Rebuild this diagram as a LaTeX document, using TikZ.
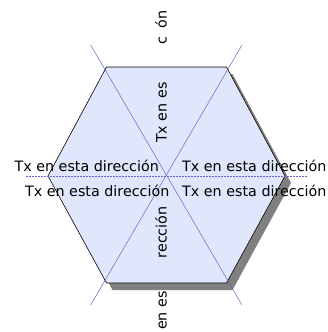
\documentclass[tikz,border=0pt]{standalone}
\usepackage{fontspec}
\setmainfont{DejaVu Sans}
\definecolor{hexfill}{RGB}{224,231,252}
\definecolor{axisblue}{RGB}{100,100,200}
\definecolor{shadowgray}{RGB}{128,128,128}
\begin{document}
\begin{tikzpicture}[x=1pt,y=-1pt,
  lbl/.style={font=\fontsize{14.3}{16}\selectfont, inner sep=0pt},
  vlbl/.style={lbl, rotate=90, anchor=base west},
  axis/.style={draw=axisblue, line width=0.5pt}]
\useasboundingbox (0,0) rectangle (328,332);
% hexagon vertices
\coordinate (A) at (106.5,67);
\coordinate (B) at (226.5,67);
\coordinate (C) at (285,176);
\coordinate (D) at (226.5,283);
\coordinate (E) at (106.5,283);
\coordinate (F) at (48,176);
% shadow
\fill[shadowgray, shift={(6,7)}] (106.5,67) -- (226.5,67) -- (285,176) -- (226.5,283) -- (106.5,283) -- (48,176) -- cycle;
% hexagon
\draw[fill=hexfill, line width=0.6pt] (A) -- (B) -- (C) -- (D) -- (E) -- (F) -- cycle;
% axes
\coordinate (L1a) at (90.7,45);
\coordinate (L1b) at (242,305);
\coordinate (L2a) at (242,45);
\coordinate (L2b) at (90.7,305);
\coordinate (H1) at (26,176);
\coordinate (H2) at (307,176);
\draw[axis] (L1a) -- (L1b);
\draw[axis] (L2a) -- (L2b);
\draw[axis, dash pattern=on 2pt off 1pt] (H1) -- (H2);
% horizontal labels
\node[lbl, anchor=base east] (tl) at (159,171.5) {Tx en esta dirección};
\node[lbl, anchor=base west] (tr) at (182,171.5) {Tx en esta dirección};
\node[lbl, anchor=base east] (bl) at (169.5,196) {Tx en esta dirección};
\node[lbl, anchor=base west] (br) at (182,196) {Tx en esta dirección};
% vertical fragments
\node[vlbl] (v1) at (166.5,143) {Tx en es};
\node[vlbl] (v2) at (166.5,45) {c};
\node[vlbl] (v3) at (166.5,28.5) {ón};
\node[vlbl] (v4) at (166.5,330) {en es};
\node[vlbl] (v5) at (166.5,258.5) {rección};
\end{tikzpicture}
\end{document}
